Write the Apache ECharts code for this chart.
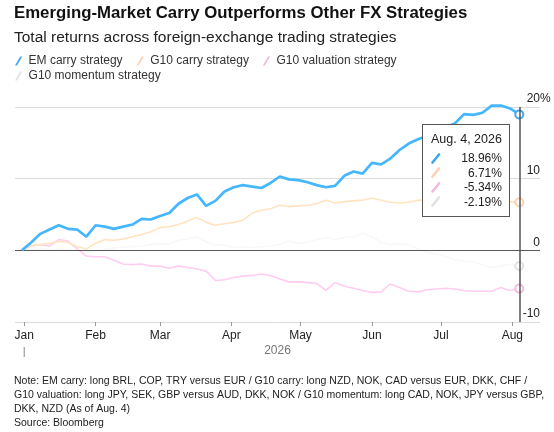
<!DOCTYPE html>
<html>
<head>
<meta charset="utf-8">
<script src="https://cdn.jsdelivr.net/npm/echarts@6/dist/echarts.min.js"></script>
<style>
html,body{margin:0;padding:0;background:#fff;}
#chart{width:554px;height:432px;}
</style>
</head>
<body>
<div id="chart"></div>
<script>
// every 4 days, Dec 31 2025 .. Aug 4 2026
var dates = [
  '2025-12-31','2026-01-04','2026-01-08','2026-01-12','2026-01-16','2026-01-20','2026-01-24','2026-01-28',
  '2026-02-01','2026-02-05','2026-02-09','2026-02-13','2026-02-17','2026-02-21','2026-02-25',
  '2026-03-01','2026-03-05','2026-03-09','2026-03-13','2026-03-17','2026-03-21','2026-03-25','2026-03-29',
  '2026-04-02','2026-04-06','2026-04-10','2026-04-14','2026-04-18','2026-04-22','2026-04-26','2026-04-30',
  '2026-05-04','2026-05-08','2026-05-12','2026-05-16','2026-05-20','2026-05-24','2026-05-28',
  '2026-06-01','2026-06-05','2026-06-09','2026-06-13','2026-06-17','2026-06-21','2026-06-25','2026-06-29',
  '2026-07-03','2026-07-07','2026-07-11','2026-07-15','2026-07-19','2026-07-23','2026-07-27','2026-07-31',
  '2026-08-04'
];
var emCarry = [0,1.1,2.3,2.9,3.5,3.0,2.9,1.9,3.5,3.3,
  3.0,3.3,3.6,4.4,4.3,4.8,5.2,6.5,7.3,7.8,
  6.2,6.9,8.2,8.8,9.1,8.9,8.7,9.4,10.3,9.9,
  9.8,9.5,9.1,8.8,9.0,10.4,11.0,10.7,12.2,12.0,
  12.8,14.0,14.9,15.5,16.0,16.6,17.2,17.7,19.0,18.9,
  19.2,20.2,20.2,19.8,18.96];
var g10Carry = [0,0.7,0.8,1.0,1.25,1.1,0.5,0.2,1.0,1.5,
  1.4,1.6,1.9,2.2,2.6,3.2,3.3,3.6,4.1,4.6,
  3.9,3.5,3.7,3.9,4.2,5.2,5.6,5.8,6.3,6.1,
  6.2,6.3,6.5,7.0,6.6,6.8,6.9,7.0,7.3,7.0,
  6.7,6.6,6.7,7.0,6.9,6.7,6.9,7.0,6.8,6.9,
  6.7,6.8,6.6,6.8,6.71];
var g10Valuation = [0,0.6,0.8,0.6,1.5,1.3,0.2,-0.8,-0.9,-0.9,
  -1.4,-1.9,-2.0,-1.9,-2.2,-2.2,-2.5,-2.2,-2.4,-2.6,
  -2.9,-4.2,-4.1,-3.8,-3.6,-3.5,-3.3,-3.5,-4.0,-4.4,
  -4.4,-4.5,-4.6,-5.6,-4.5,-5.0,-5.3,-5.6,-5.9,-5.8,
  -4.7,-5.2,-5.7,-5.8,-5.5,-5.4,-5.3,-5.4,-5.6,-5.7,
  -5.7,-5.7,-5.2,-5.6,-5.34];
var g10Momentum = [0,0.1,0.2,0.1,0.2,0.1,0.0,-0.3,-0.1,0.1,
  0.3,0.5,0.5,0.6,0.8,0.9,0.9,1.4,1.6,1.9,
  1.2,0.7,0.8,0.4,0.5,0.4,0.5,0.6,0.8,1.3,
  1.0,1.1,1.5,1.8,1.5,1.8,1.9,2.4,1.9,1.1,
  0.8,0.9,0.8,0.2,-0.3,-0.5,-0.8,-1.3,-1.5,-1.6,
  -2.0,-2.4,-2.2,-1.9,-2.19];
var seriesNames = ['EM carry strategy','G10 carry strategy','G10 valuation strategy','G10 momentum strategy'];
var seriesColors = ['#3ea7f1','#fcd0b1','#f3bbdb','#e2e2e2'];
var yTicks = [-10, 0, 10, 20];
var monthNames = ['Jan','Feb','Mar','Apr','May','Jun','Jul','Aug','Sep','Oct','Nov','Dec'];
var monthAbbr = ['Jan.','Feb.','March','April','May','June','July','Aug.','Sept.','Oct.','Nov.','Dec.'];

var FONT = '"Liberation Sans", Arial, Helvetica, sans-serif';
var last = dates.length - 1;

function pairs(vals){
  return dates.map(function(d, i){ return [d, vals[i]]; });
}
function slash(color){
  return '<svg width="10" height="11" style="display:block"><line x1="1.5" y1="9.5" x2="8" y2="1.5" stroke="' + color +
    '" stroke-width="2.6" stroke-linecap="round"/></svg>';
}

var chart = echarts.init(document.getElementById('chart'));

var allValues = [emCarry, g10Carry, g10Valuation, g10Momentum];
var series = allValues.map(function(vals, i){
  var s = {
    name: seriesNames[i],
    type: 'line',
    data: pairs(vals),
    z: i === 0 ? 5 : 4 - i * 0.5,
    showSymbol: true,
    symbol: function(v, p){ return p.dataIndex === last ? 'emptyCircle' : 'none'; },
    symbolSize: 8,
    clip: false,
    itemStyle: { color: seriesColors[i], borderWidth: 1.5 },
    lineStyle: { color: seriesColors[i], width: i === 0 ? 2.7 : 1.6 },
    emphasis: { scale: false, lineStyle: { width: i === 0 ? 2.7 : 1.6 } }
  };
  if (i === 2) {
    s.markLine = {
      silent: true, symbol: 'none', label: { show: false },
      lineStyle: { color: '#5a5a5a', width: 1.2, type: 'solid' },
      data: [{ yAxis: 0 }]
    };
  }
  return s;
});

var legendIcon = 'path://M0,10L2.2,10L8,0L5.8,0Z';
var legendBase = {
  icon: legendIcon, itemWidth: 8, itemHeight: 9, itemGap: 14,
  selectedMode: false, left: 15, padding: 0,
  itemStyle: { borderWidth: 0 },
  textStyle: { fontSize: 12, color: '#333', fontFamily: FONT, padding: [0, 0, 0, 1] }
};

chart.setOption({
  animation: false,
  textStyle: { fontFamily: FONT },
  title: [
    { text: 'Emerging-Market Carry Outperforms Other FX Strategies', left: 14, top: 5, padding: 0,
      textStyle: { fontSize: 16.8, fontWeight: 'bold', color: '#111', fontFamily: FONT } },
    { text: 'Total returns across foreign-exchange trading strategies', left: 14, top: 30, padding: 0,
      textStyle: { fontSize: 15.5, fontWeight: 'normal', color: '#222', fontFamily: FONT } },
    { text: 'Note: EM carry: long BRL, COP, TRY versus EUR / G10 carry: long NZD, NOK, CAD versus EUR, DKK, CHF /\n' +
            'G10 valuation: long JPY, SEK, GBP versus AUD, DKK, NOK / G10 momentum: long CAD, NOK, JPY versus GBP,\n' +
            'DKK, NZD (As of Aug. 4)\nSource: Bloomberg',
      left: 14, top: 374, padding: 0,
      textStyle: { fontSize: 10.5, fontWeight: 'normal', color: '#222', lineHeight: 14, fontFamily: FONT } }
  ],
  legend: [
    Object.assign({}, legendBase, { top: 55, data: seriesNames.slice(0, 3) }),
    Object.assign({}, legendBase, { top: 70, data: seriesNames.slice(3) })
  ],
  grid: { left: 15, right: 14, top: 107, bottom: 110 },
  tooltip: {
    trigger: 'axis',
    triggerOn: 'none',
    alwaysShowContent: true,
    transitionDuration: 0,
    backgroundColor: '#fff',
    borderColor: '#555',
    borderWidth: 1,
    padding: [6, 7, 7, 8],
    extraCssText: 'box-shadow:none;border-radius:0;',
    textStyle: { fontSize: 12, color: '#222', fontFamily: FONT },
    position: function(pt, params, dom, rect, size){ return [510 - size.contentSize[0], 124]; },
    axisPointer: { type: 'line', lineStyle: { color: '#555', width: 1.5, type: 'solid' }, label: { show: false } },
    formatter: function(params){
      var d = new Date(params[0].value[0]);
      var html = '<div style="font-size:12.5px;line-height:17px;margin-bottom:3px">' +
        monthAbbr[d.getMonth()] + ' ' + d.getDate() + ', ' + d.getFullYear() + '</div>';
      params.forEach(function(p){
        html += '<div style="display:flex;justify-content:space-between;align-items:center;height:14.5px;line-height:14.5px;">' +
          slash(p.color) + '<span style="margin-left:18px">' + p.value[1].toFixed(2) + '%</span></div>';
      });
      return html;
    }
  },
  xAxis: {
    type: 'time',
    min: '2025-12-28',
    max: '2026-08-13',
    minInterval: 28 * 86400000,
    maxInterval: 31 * 86400000,
    axisLine: { show: false, onZero: false },
    axisTick: { show: true, length: 4, lineStyle: { color: '#999' } },
    splitLine: { show: false },
    axisLabel: {
      margin: 8, fontSize: 12, color: '#222',
      formatter: function(v){ return monthNames[new Date(v).getMonth()]; }
    },
    name: '2026',
    nameLocation: 'middle',
    nameGap: 23,
    nameTextStyle: { color: '#777', fontSize: 12 }
  },
  yAxis: {
    type: 'value',
    position: 'right',
    min: yTicks[0],
    max: yTicks[yTicks.length - 1],
    interval: 10,
    axisLine: { show: false },
    axisTick: { show: false },
    splitLine: { lineStyle: { color: '#dcdcdc', width: 1 } },
    axisLabel: {
      align: 'right', margin: 0, verticalAlign: 'bottom', padding: [0, 0, 2, 0],
      fontSize: 12, color: '#222'
    }
  },
  series: series
});

// year marker under Jan and the "%" hanging after the top tick label
var janX = chart.convertToPixel({ xAxisIndex: 0 }, '2026-01-01');
var rightX = chart.convertToPixel({ xAxisIndex: 0 }, '2026-08-13');
var topY = chart.convertToPixel({ yAxisIndex: 0 }, yTicks[yTicks.length - 1]);
chart.setOption({
  graphic: [
    { type: 'line', silent: true, shape: { x1: janX, y1: 347, x2: janX, y2: 357 },
      style: { stroke: '#888', lineWidth: 1 } },
    { type: 'text', silent: true, x: rightX, y: topY - 2,
      style: { text: '%', fill: '#222', font: '12px ' + FONT, align: 'left', verticalAlign: 'bottom' } }
  ]
});
chart.dispatchAction({ type: 'showTip', seriesIndex: 0, dataIndex: last });
</script>
</body>
</html>
